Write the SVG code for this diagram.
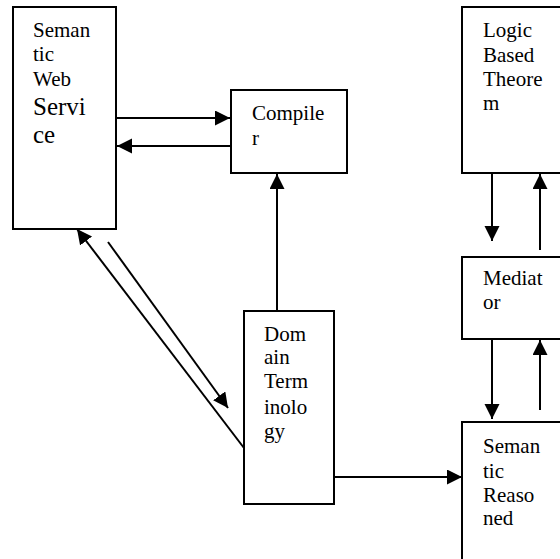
<svg xmlns="http://www.w3.org/2000/svg" width="560" height="559" viewBox="0 0 560 559">
  <style>
    .box { fill: #ffffff; stroke: #000000; stroke-width: 2; }
    .lbl { font-family: "Liberation Serif", "Times New Roman", serif; font-size: 21px; fill: #000000; }
    .big { font-size: 25px; }
    .wire { fill: none; stroke: #000000; stroke-width: 2; }
    .arr { marker-end: url(#head); }
  </style>
  <defs>
    <marker id="head" markerUnits="userSpaceOnUse" markerWidth="16" markerHeight="16" refX="15" refY="7.5" orient="auto">
      <path d="M0,0 L15,7.5 L0,15 Z" fill="#000000"/>
    </marker>
  </defs>

  <rect width="560" height="559" fill="#ffffff"/>

  <!-- connectors -->
  <g id="connectors">
    <!-- Semantic Web Service <-> Compiler -->
    <line class="wire arr" x1="116" y1="118" x2="230" y2="118"/>
    <line class="wire arr" x1="230" y1="146" x2="117" y2="146"/>
    <!-- Domain Terminology -> Compiler -->
    <line class="wire arr" x1="277" y1="311" x2="277" y2="174"/>
    <!-- Domain Terminology <-> Semantic Web Service -->
    <line class="wire arr" x1="244" y1="448" x2="77" y2="229"/>
    <line class="wire arr" x1="108" y1="242" x2="228" y2="408"/>
    <!-- Domain Terminology -> Semantic Reasoned -->
    <line class="wire arr" x1="334" y1="477" x2="462" y2="477"/>
    <!-- Logic Based Theorem <-> Mediator -->
    <line class="wire arr" x1="492" y1="173" x2="492" y2="241"/>
    <line class="wire arr" x1="540" y1="250" x2="540" y2="174"/>
    <!-- Mediator <-> Semantic Reasoned -->
    <line class="wire arr" x1="492" y1="339" x2="492" y2="419"/>
    <line class="wire arr" x1="540" y1="410" x2="540" y2="340"/>
  </g>

  <g id="semantic-web-service">
    <rect class="box" x="13" y="7" width="103" height="222"/>
    <text class="lbl" x="33" y="37">Seman</text>
    <text class="lbl" x="33" y="61">tic</text>
    <text class="lbl" x="33" y="86">Web</text>
    <text class="lbl big" x="33" y="115">Servi</text>
    <text class="lbl big" x="33" y="143">ce</text>
  </g>

  <g id="compiler">
    <rect class="box" x="231" y="90" width="116" height="83"/>
    <text class="lbl" x="252" y="120">Compile</text>
    <text class="lbl" x="252" y="145">r</text>
  </g>

  <g id="domain-terminology">
    <rect class="box" x="244" y="311" width="90" height="193"/>
    <text class="lbl" x="264" y="341">Dom</text>
    <text class="lbl" x="264" y="364">ain</text>
    <text class="lbl" x="264" y="388">Term</text>
    <text class="lbl" x="264" y="414">inolo</text>
    <text class="lbl" x="264" y="438">gy</text>
  </g>

  <g id="logic-based-theorem">
    <rect class="box" x="462" y="7" width="110" height="166"/>
    <text class="lbl" x="483" y="37">Logic</text>
    <text class="lbl" x="483" y="62">Based</text>
    <text class="lbl" x="483" y="86">Theore</text>
    <text class="lbl" x="483" y="110">m</text>
  </g>

  <g id="mediator">
    <rect class="box" x="462" y="257" width="110" height="82"/>
    <text class="lbl" x="483" y="285">Mediat</text>
    <text class="lbl" x="483" y="309">or</text>
  </g>

  <g id="semantic-reasoned">
    <rect class="box" x="462" y="422" width="110" height="150"/>
    <text class="lbl" x="483" y="453">Seman</text>
    <text class="lbl" x="483" y="478">tic</text>
    <text class="lbl" x="483" y="502">Reaso</text>
    <text class="lbl" x="483" y="525">ned</text>
  </g>
</svg>
